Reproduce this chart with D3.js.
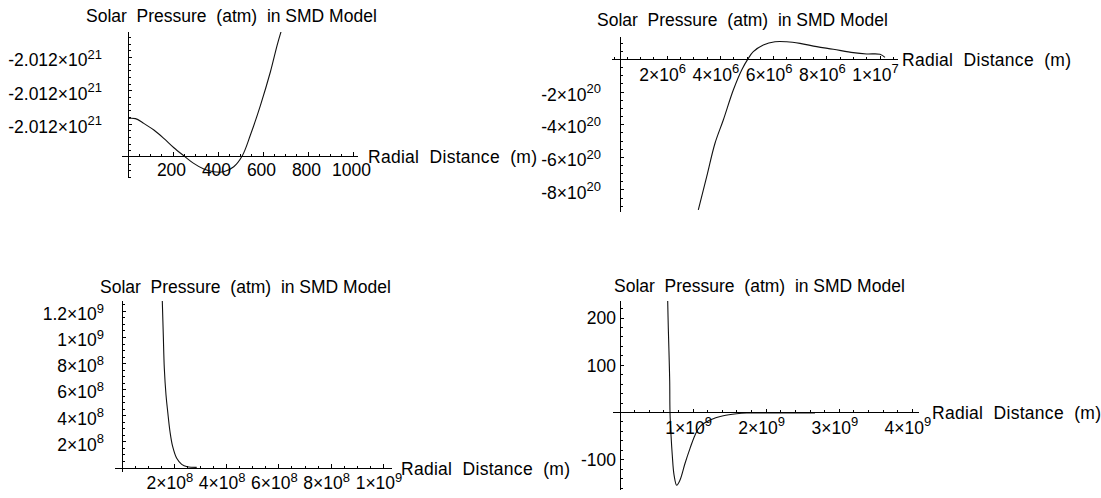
<!DOCTYPE html>
<html>
<head>
<meta charset="utf-8">
<script src="https://cdn.jsdelivr.net/npm/d3@7"></script>
<style>
  html, body { margin: 0; padding: 0; background: #fff; }
  svg { display: block; font-family: "Liberation Sans", Arial, sans-serif; }
  text { fill: #000; white-space: pre; }
</style>
</head>
<body>
<svg id="chart" width="1101" height="498"></svg>
<script>
// Solar pressure (atm) in the SMD model, four radial ranges.
// Radius in metres, pressure in atm.

// Panel A: 0 - 1000 m
const aRadius   = [0, 33, 70, 115, 159, 204, 248, 292, 337, 381, 426, 470, 508, 544, 589, 633, 663, 681];
const aPressure = [-2.0120002828e21, -2.0120002835e21, -2.0120002978e21, -2.0120003179e21, -2.0120003428e21,
                   -2.0120003711e21, -2.0120003951e21, -2.0120004179e21, -2.0120004350e21, -2.0120004431e21,
                   -2.0120004431e21, -2.0120004281e21, -2.0120003951e21, -2.0120003329e21, -2.0120002428e21,
                   -2.0120001428e21, -2.0120000627e21, -2.0120000206e21];
const aXTicks = [200, 400, 600, 800, 1000];
const aYTicks = [-2.0120003e21, -2.0120002e21, -2.0120001e21];

// Panel B: up to 1e7 m
const bRadius   = [3.17e6, 3.485e6, 3.797e6, 4.109e6, 4.485e6, 4.801e6, 5.049e6, 5.237e6, 5.613e6,
                   6.053e6, 6.492e6, 6.992e6, 7.620e6, 8.244e6, 8.996e6, 9.500e6, 1.0e7, 1.0188e7];
const bPressure = [-9.23e20, -7.19e20, -5.14e20, -3.71e20, -1.87e20, -0.64e20, 0.07e20, 0.48e20, 0.89e20,
                   1.09e20, 1.09e20, 0.99e20, 0.79e20, 0.63e20, 0.42e20, 0.34e20, 0.32e20, 0.13e20];
const bXTicks = [2e6, 4e6, 6e6, 8e6, 1e7];
const bYTicks = [-8e20, -6e20, -4e20, -2e20];

// Panel C: up to 1e9 m
const cRadius   = [1.541e8, 1.579e8, 1.618e8, 1.683e8, 1.748e8, 1.836e8, 1.939e8, 2.092e8, 2.283e8, 2.497e8, 2.857e8];
const cPressure = [12.8e8, 10.19e8, 7.64e8, 5.59e8, 4.31e8, 2.78e8, 1.63e8, 0.74e8, 0.28e8, 0.10e8, 0.05e8];
const cXTicks = [2e8, 4e8, 6e8, 8e8, 1e9];
const cYTicks = [2e8, 4e8, 6e8, 8e8, 1e9, 1.2e9];

// Panel D: up to 4e9 m
const dRadius   = [0.6525e9, 0.661e9, 0.670e9, 0.680e9, 0.684e9, 0.698e9, 0.715e9, 0.739e9, 0.776e9, 0.821e9,
                   0.889e9, 0.958e9, 1.026e9, 1.094e9, 1.231e9, 1.413e9, 1.596e9, 1.733e9, 2.2e9, 2.668e9];
const dPressure = [236, 178, 129, 65, 0.4, -48, -90, -132, -154, -143,
                   -108, -76, -48, -30, -16, -6.8, -2.5, -1.1, -0.9, -0.8];
const dXTicks = [1e9, 2e9, 3e9, 4e9];
const dYTicks = [-100, 100, 200];

const titleText = "Solar\u00a0\u00a0Pressure\u00a0\u00a0(atm)\u00a0\u00a0in SMD Model";
const axisText  = "Radial\u00a0\u00a0Distance\u00a0\u00a0(m)";

const FONT = 17.5, SUP_FONT = 13, SUP_RAISE = 7.5;
const MAJOR = 4, MINOR = 2.5;

const panels = [
  { id: "a", radius: aRadius, pressure: aPressure, xTicks: aXTicks, yTicks: aYTicks,
    xRef: [0, 1000], xPix: [128, 353], yRef: [-2.0120003e21, -2.0120001e21], yPix: [124.1, 57.5],
    origin: [0, -2.012000396e21], xSpan: [122, 358], ySpan: [32, 178],
    xMinor: 50, yMinor: 2e13, xSig: 0, ySig: 4,
    titleX: 86, titleY: 22, axisLabelX: 368, yLabelRight: 102 },
  { id: "b", radius: bRadius, pressure: bPressure, xTicks: bXTicks, yTicks: bYTicks,
    xRef: [0, 1e7], xPix: [614, 880], yRef: [0, -8e20], yPix: [59.5, 189.9],
    origin: [2.3e5, 0], xSpan: [612, 898], ySpan: [37, 212],
    xMinor: 5e5, yMinor: 5e19, xSig: 2, ySig: 2,
    titleX: 597, titleY: 26, axisLabelX: 902, yLabelRight: 601 },
  { id: "c", radius: cRadius, pressure: cPressure, xTicks: cXTicks, yTicks: cYTicks,
    xRef: [0, 1e9], xPix: [122, 383.5], yRef: [0, 1.2e9], yPix: [468, 311.4],
    origin: [0, 0], xSpan: [115, 392], ySpan: [301, 472],
    xMinor: 5e7, yMinor: 5e7, xSig: 2, ySig: 2,
    titleX: 100, titleY: 292.5, axisLabelX: 401, yLabelRight: 104 },
  { id: "d", radius: dRadius, pressure: dPressure, xTicks: dXTicks, yTicks: dYTicks,
    xRef: [0, 4e9], xPix: [620, 912.4], yRef: [0, 200], yPix: [412.5, 318.1],
    origin: [0, 0], xSpan: [612.5, 919], ySpan: [301, 490],
    xMinor: 2e8, yMinor: 20, xSig: 2, ySig: 0,
    titleX: 614, titleY: 292, axisLabelX: 932, yLabelRight: 616 }
];

const svg = d3.select("#chart");
svg.append("rect").attr("width", 1101).attr("height", 498).attr("fill", "#fff");

// Mathematica-style number: plain integer, or mantissa × 10^exponent
function tickParts(v, sig) {
  if (!sig) return { base: String(v), sup: null };
  const e = Math.floor(Math.log10(Math.abs(v)) + 1e-9);
  const m = v / Math.pow(10, e);
  return { base: String(parseFloat(m.toPrecision(sig))) + "\u00d710", sup: String(e) };
}

function addNumber(g, x, y, parts, anchor) {
  const t = g.append("text").attr("x", x).attr("y", y)
    .attr("text-anchor", anchor).attr("font-size", FONT);
  t.append("tspan").text(parts.base);
  if (parts.sup) t.append("tspan").attr("dy", -SUP_RAISE).attr("font-size", SUP_FONT).text(parts.sup);
}

panels.forEach(p => {
  const x = d3.scaleLinear().domain(p.xRef).range(p.xPix);
  const y = d3.scaleLinear().domain(p.yRef).range(p.yPix);
  const g = svg.append("g");
  const ox = x(p.origin[0]), oy = y(p.origin[1]);

  // curve, clipped to the plot range
  g.append("clipPath").attr("id", "clip-" + p.id)
    .append("rect")
    .attr("x", p.xSpan[0]).attr("y", p.ySpan[0])
    .attr("width", p.xSpan[1] - p.xSpan[0]).attr("height", p.ySpan[1] - p.ySpan[0]);

  const line = d3.line()
    .x((d, i) => x(p.radius[i]))
    .y((d, i) => y(p.pressure[i]))
    .curve(d3.curveCatmullRom.alpha(0.5));

  g.append("path")
    .attr("clip-path", "url(#clip-" + p.id + ")")
    .attr("d", line(p.radius))
    .attr("fill", "none").attr("stroke", "#111").attr("stroke-width", 1.1);

  // axes
  const axes = g.append("g").attr("stroke", "#000").attr("stroke-width", 1)
    .attr("shape-rendering", "crispEdges");
  axes.append("line").attr("x1", p.xSpan[0]).attr("x2", p.xSpan[1]).attr("y1", oy).attr("y2", oy);
  axes.append("line").attr("x1", ox).attr("x2", ox).attr("y1", p.ySpan[0]).attr("y2", p.ySpan[1]);

  // x ticks (major + minor), drawn upward from the axis
  const xLo = x.invert(p.xSpan[0]), xHi = x.invert(p.xSpan[1]);
  d3.range(Math.ceil(xLo / p.xMinor), Math.floor(xHi / p.xMinor) + 1).forEach(k => {
    const v = k * p.xMinor, px = x(v);
    if (Math.abs(px - ox) < 1.5) return;
    const isMajor = p.xTicks.some(t => Math.abs(t - v) < p.xMinor * 1e-3);
    axes.append("line").attr("x1", px).attr("x2", px).attr("y1", oy).attr("y2", oy - (isMajor ? MAJOR : MINOR));
  });

  // y ticks, drawn to the right of the axis
  const yLo = Math.min(y.invert(p.ySpan[0]), y.invert(p.ySpan[1]));
  const yHi = Math.max(y.invert(p.ySpan[0]), y.invert(p.ySpan[1]));
  const base = p.yTicks[0];
  d3.range(Math.ceil((yLo - base) / p.yMinor), Math.floor((yHi - base) / p.yMinor) + 1).forEach(k => {
    const v = base + k * p.yMinor, py = y(v);
    if (Math.abs(py - oy) < 1.5) return;
    const isMajor = p.yTicks.some(t => Math.abs(t - v) < p.yMinor * 1e-3);
    axes.append("line").attr("x1", ox).attr("x2", ox + (isMajor ? MAJOR : MINOR)).attr("y1", py).attr("y2", py);
  });

  // tick labels
  p.xTicks.forEach(t => {
    const parts = tickParts(t, p.xSig);
    addNumber(g, x(t) + (parts.sup ? -4.5 : -1.5), oy + (parts.sup ? 21 : 20), parts, "middle");
  });
  p.yTicks.forEach(t => {
    const parts = tickParts(t, p.ySig);
    addNumber(g, p.yLabelRight, y(t) + (parts.sup ? 8.75 : 6.25), parts, "end");
  });

  // titles
  g.append("text").attr("x", p.titleX).attr("y", p.titleY).attr("font-size", FONT).text(titleText);
  g.append("text").attr("x", p.axisLabelX).attr("y", oy + 6.5).attr("font-size", FONT)
    .attr("textLength", 169).attr("lengthAdjust", "spacing").text(axisText);
});
</script>
</body>
</html>
